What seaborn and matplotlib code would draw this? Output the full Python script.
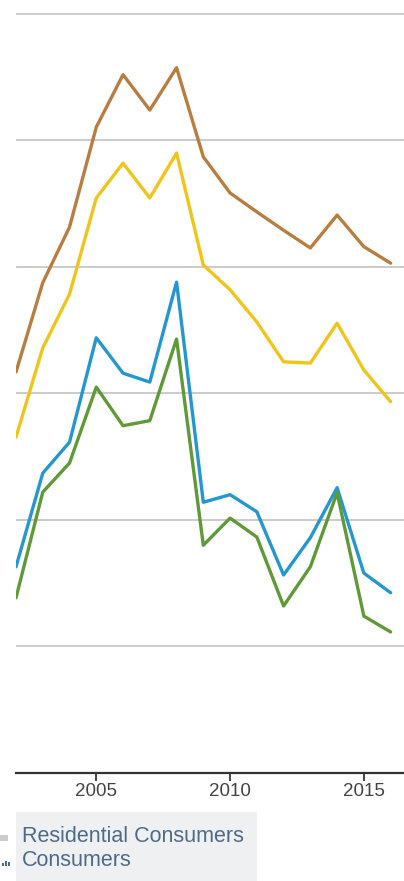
import numpy as np
import pandas as pd
import matplotlib
matplotlib.use("Agg")
import matplotlib.pyplot as plt
import seaborn as sns
from matplotlib.patches import Rectangle

years = list(range(2002, 2017))

series_a = [6.34, 7.75, 8.63, 10.21, 11.04, 10.48, 11.15, 9.74, 9.17, 8.87, 8.58, 8.30, 8.82, 8.32, 8.06]
series_b = [5.31, 6.72, 7.57, 9.09, 9.64, 9.09, 9.80, 8.03, 7.64, 7.13, 6.50, 6.48, 7.11, 6.37, 5.87]
series_c = [3.26, 4.74, 5.23, 6.88, 6.32, 6.18, 7.76, 4.28, 4.40, 4.13, 3.13, 3.72, 4.51, 3.16, 2.85]
series_d = [2.77, 4.44, 4.90, 6.10, 5.49, 5.57, 6.86, 3.60, 4.03, 3.73, 2.64, 3.26, 4.43, 2.48, 2.23]

series_names = ["All Consumers", "Residential Consumers", "Commercial Consumers", "Industrial Consumers"]
colors = ["#b97e3f", "#f1c41a", "#2497d3", "#5f9a37"]

x_ticks = [2005, 2010, 2015]
y_grid = [2, 4, 6, 8, 10, 12]

df = pd.concat([
    pd.DataFrame({"year": years, "value": vals, "series": name})
    for name, vals in zip(series_names, [series_a, series_b, series_c, series_d])
])

sns.set_theme(style="white")
plt.rcParams["font.family"] = ["Liberation Sans", "DejaVu Sans"]

W, H = 404, 881
fig = plt.figure(figsize=(W / 100, H / 100), dpi=100)
ax = fig.add_axes([16 / W, (H - 773) / H, 1 - 16 / W, 773 / H])

for yv in y_grid:
    ax.axhline(yv, color="#cbcbcb", lw=1.4, zorder=0)

sns.lineplot(data=df, x="year", y="value", hue="series", hue_order=series_names,
             palette=colors, lw=2.4, legend=False, ax=ax, zorder=3)

ax.set_xlim(2002, 2016.5)
ax.set_ylim(0, 12.22)
ax.set_xticks(x_ticks)
ax.set_xticklabels([str(t) for t in x_ticks], fontsize=13.5, color="#444444")
ax.tick_params(axis="x", length=6, width=1.2, color="#222222", pad=1, direction="out", bottom=True)
ax.set_yticks([])
ax.set_xlabel("")
ax.set_ylabel("")
for side in ["top", "right", "left"]:
    ax.spines[side].set_visible(False)
ax.spines["bottom"].set_color("#333333")
ax.spines["bottom"].set_linewidth(1.6)

# legend strip below the plot
fig.patches.append(Rectangle((16 / W, 0), (257 - 16) / W, (881 - 812) / H,
                             transform=fig.transFigure, facecolor="#eff0f2",
                             edgecolor="none", zorder=0))
fig.text(22 / W, 1 - 836 / H, "Residential Consumers", fontsize=15.5, color="#4d6b88",
         va="center", ha="left")
fig.text(22 / W, 1 - 861 / H, "Consumers", fontsize=15.5, color="#4d6b88",
         va="center", ha="left")
fig.patches.append(Rectangle((0, 1 - 841 / H), 8 / W, 6 / H, transform=fig.transFigure,
                             facecolor="#c9ccd0", edgecolor="none"))
for i, hh in enumerate([3, 5, 4]):
    fig.patches.append(Rectangle(((2 + i * 3) / W, 1 - 866 / H), 2 / W, hh / H,
                                 transform=fig.transFigure, facecolor="#4d6b88",
                                 edgecolor="none"))

fig.savefig("out.png", dpi=100)
